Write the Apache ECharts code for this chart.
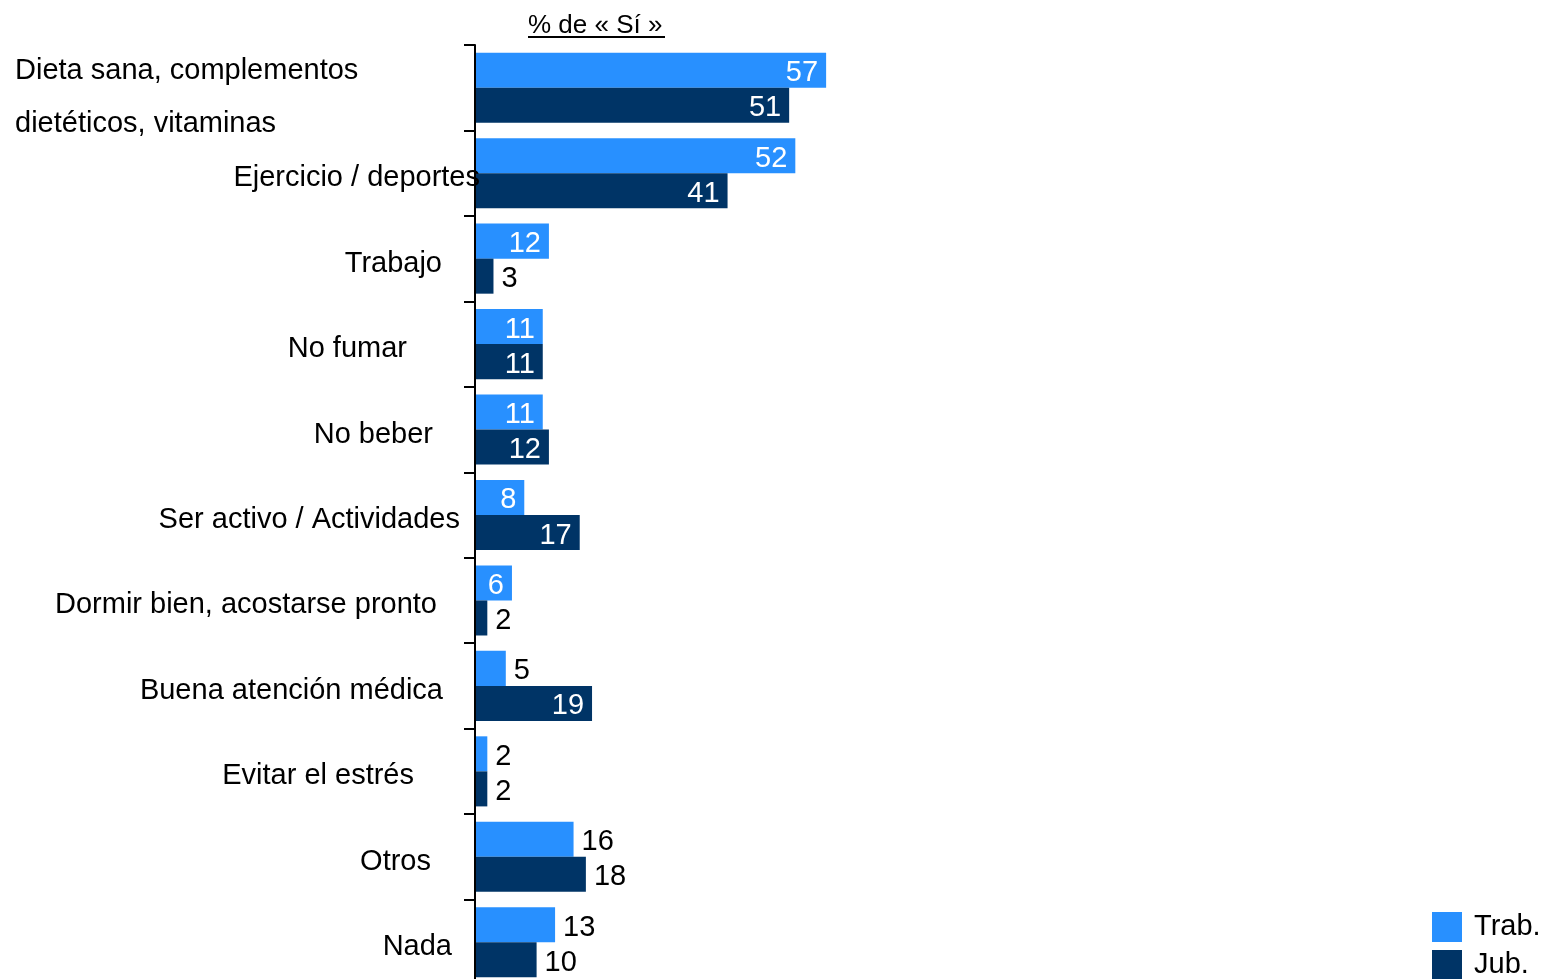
<!DOCTYPE html>
<html>
<head>
<meta charset="utf-8">
<script src="https://cdn.jsdelivr.net/npm/echarts@6/dist/echarts.min.js"></script>
<style>
html,body{margin:0;padding:0;background:#fff;overflow:hidden;}
#chart{width:1546px;height:990px;}
</style>
</head>
<body>
<div id="chart"></div>
<script>
const categories = [
  'Dieta sana, complementos\ndietéticos, vitaminas',
  'Ejercicio / deportes',
  'Trabajo',
  'No fumar',
  'No beber',
  'Ser activo / Actividades',
  'Dormir bien, acostarse pronto',
  'Buena atención médica',
  'Evitar el estrés',
  'Otros',
  'Nada'
];
const seriesNames = ['Trab.', 'Jub.'];
const trab = [57, 52, 12, 11, 11, 8, 6, 5, 2, 16, 13];
const jub  = [51, 41, 3, 11, 12, 17, 2, 19, 2, 18, 10];
const titleText = '% de « Sí »';

// label placement styles (as in the original chart)
const trabLabelInside = [true, true, true, true, true, true, true, false, false, false, false];
const jubLabelInside  = [true, true, false, true, true, true, false, true, false, false, false];
// extra right padding of each category label (irregular placement in the original)
const catLabelPadRight = [119, 0, 38, 73, 47, 20, 43, 37, 66, 49, 28];

const FONT = "'Liberation Sans', Arial, sans-serif";
const LIGHT = '#2890FF';
const DARK = '#003466';

function makeData(values, inside) {
  return values.map((v, i) => ({
    value: v,
    label: inside[i]
      ? { position: 'insideRight', color: '#fff', distance: 8 }
      : { position: 'right', color: '#000', distance: 8 }
  }));
}

const chart = echarts.init(document.getElementById('chart'));
chart.setOption({
  animation: false,
  backgroundColor: '#fff',
  textStyle: { fontFamily: FONT },
  grid: { left: 475, top: 45, width: 616, height: 940, containLabel: false },
  legend: {
    orient: 'vertical',
    left: 1427,
    top: 907,
    height: 80,
    itemWidth: 30,
    itemHeight: 30,
    itemGap: 8,
    icon: 'rect',
    data: seriesNames,
    textStyle: { fontSize: 29, color: '#000', fontFamily: FONT, padding: [0, 0, 0, 7] }
  },
  graphic: [{
    type: 'group',
    left: 528,
    top: 13,
    children: [
      { type: 'text', x: 0, y: 0, style: { text: titleText, font: '26px ' + FONT, fill: '#000' } },
      { type: 'rect', shape: { x: 0, y: 23, width: 137, height: 2 }, style: { fill: '#000' } }
    ]
  }],
  xAxis: { type: 'value', min: 0, max: 100, show: false },
  yAxis: {
    type: 'category',
    inverse: true,
    z: 5,
    data: categories.map((c, i) => ({
      value: c,
      textStyle: { padding: i === 0 ? [20, catLabelPadRight[i], 0, 0] : [10, catLabelPadRight[i], 0, 0] }
    })),
    axisLine: { show: true, lineStyle: { color: '#000', width: 2 } },
    axisTick: { show: true, length: 11, lineStyle: { color: '#000', width: 2 } },
    axisLabel: {
      margin: -5,
      fontSize: 29,
      color: '#000',
      fontFamily: FONT,
      formatter: function (v) {
        if (v.indexOf('\n') >= 0) {
          return v.split('\n').map(s => '{l|' + s + '}').join('\n');
        }
        return v;
      },
      rich: {
        l: { width: 346, align: 'left', lineHeight: 53, fontSize: 29, color: '#000', fontFamily: FONT }
      }
    },
    splitLine: { show: false }
  },
  series: [
    {
      name: seriesNames[0],
      type: 'bar',
      data: makeData(trab, trabLabelInside),
      itemStyle: { color: LIGHT },
      barGap: '0%',
      barCategoryGap: '18%',
      label: { show: true, fontSize: 29, fontFamily: FONT, offset: [0, 3] }
    },
    {
      name: seriesNames[1],
      type: 'bar',
      data: makeData(jub, jubLabelInside),
      itemStyle: { color: DARK },
      barGap: '0%',
      barCategoryGap: '18%',
      label: { show: true, fontSize: 29, fontFamily: FONT, offset: [0, 3] }
    }
  ]
});
</script>
</body>
</html>
